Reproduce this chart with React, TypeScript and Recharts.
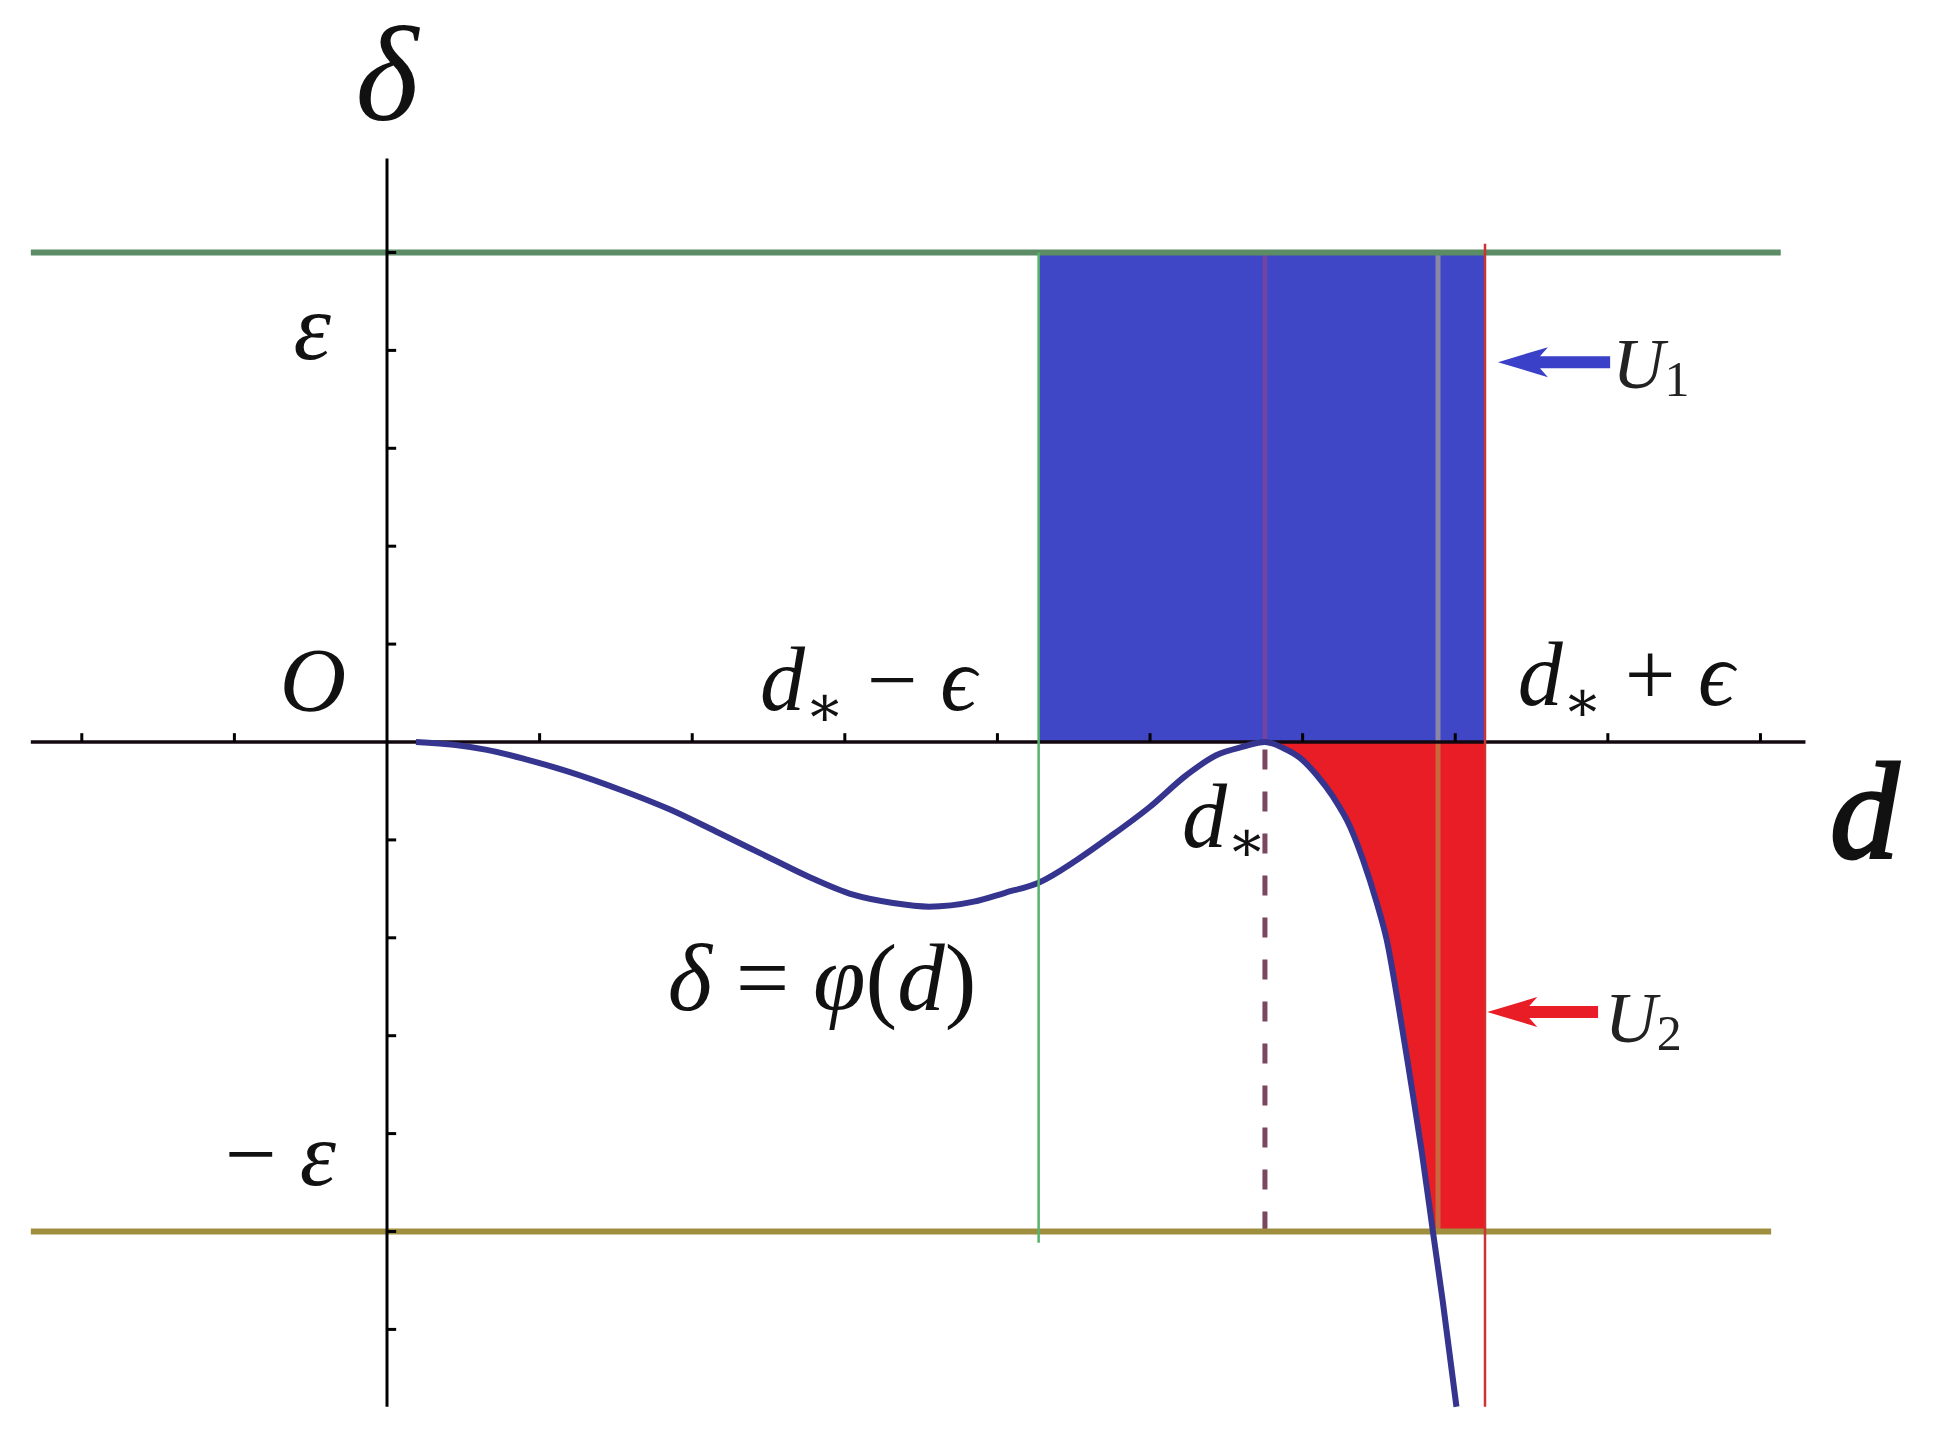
import React from 'react';
import {
  ComposedChart,
  Line,
  Area,
  XAxis,
  YAxis,
  ReferenceLine,
  ReferenceArea,
  ReferenceDot,
} from 'recharts';

// ---------- data (in tick units) ----------
const curveX = [0.19, 0.45, 0.655, 0.917, 1.183, 1.533, 1.855, 2.176, 2.53, 2.763, 3.054, 3.316, 3.552, 3.845, 4.05, 4.27, 4.52, 4.738, 5.0, 5.24, 5.437, 5.61, 5.753, 5.872, 5.983, 6.092, 6.199, 6.311, 6.396, 6.486, 6.551, 6.622, 6.707, 6.779, 6.855, 6.917, 7.008];
const curveY = [0, -0.03, -0.08, -0.18, -0.3, -0.49, -0.69, -0.93, -1.2, -1.376, -1.56, -1.645, -1.682, -1.631, -1.54, -1.437, -1.205, -0.967, -0.661, -0.337, -0.133, -0.048, 0, -0.061, -0.163, -0.337, -0.559, -0.865, -1.205, -1.645, -2.022, -2.635, -3.452, -4.167, -5.015, -5.7, -6.79];

// U2 region: between the curve (clipped at -eps) and the d-axis
const regionU2X = [5.753, 5.872, 5.983, 6.092, 6.199, 6.311, 6.396, 6.486, 6.551, 6.622, 6.707, 6.779, 6.855, 7.195];
const regionU2Low = [0, -0.061, -0.163, -0.337, -0.559, -0.865, -1.205, -1.645, -2.022, -2.635, -3.452, -4.167, -5, -5];
const regionU2High = [0, 0, 0, 0, 0, 0, 0, 0, 0, 0, 0, 0, 0, 0];

const xTicks = [-2, -1, 1, 2, 3, 4, 5, 6, 7, 8, 9];
const yTicks = [-6, -5, -4, -3, -2, -1, 1, 2, 3, 4, 5];

const EPS_Y = 5;
const D_STAR = 5.753;
const D_MINUS = 4.27;
const D_PLUS = 7.195;
const D_CROSS = 6.887;
const LINE_LEFT = -2.334;
const AXIS_RIGHT = 9.295;
const TOP_RIGHT = 9.133;
const BOTTOM_RIGHT = 9.07;
const Y_AXIS_TOP = 5.96;
const Y_AXIS_BOTTOM = -6.79;

const U1_ARROW = { tip: 7.28, tail: 8.015, y: 3.88 };
const U2_ARROW = { tip: 7.21, tail: 7.936, y: -2.758 };

// ---------- derived tables ----------
const curveData = curveX.map((x, i) => ({ x, y: curveY[i] }));
const regionU2Data = regionU2X.map((x, i) => ({ x, range: [regionU2Low[i], regionU2High[i]] }));

const W = 1939;
const H = 1437;
const FONT = '"Liberation Serif", "DejaVu Serif", serif';

const arrowShape = (color: string) => (p: any) => {
  const { x1, y1, x2 } = p;
  const tip = Math.min(x1, x2);
  const tail = Math.max(x1, x2);
  const y = y1;
  const pts = [
    [tip, y],
    [tip + 50, y - 15],
    [tip + 42, y - 6],
    [tail, y - 6],
    [tail, y + 6],
    [tip + 42, y + 6],
    [tip + 50, y + 15],
  ]
    .map((q) => q.join(','))
    .join(' ');
  return <polygon points={pts} fill={color} stroke="none" />;
};

const textAt = (render: (cx: number, cy: number) => React.ReactNode) => (p: any) => (
  <g>{render(p.cx, p.cy)}</g>
);

export default function App() {
  return (
    <div style={{ position: 'absolute', left: 0, top: 0, width: W, height: H, background: '#fff' }}>
      <ComposedChart width={W} height={H} margin={{ top: 0, right: 0, bottom: 0, left: 0 }}>
        <XAxis type="number" dataKey="x" hide domain={[-2.536, 10.17]} allowDataOverflow />
        <YAxis type="number" hide domain={[-7.099, 7.579]} allowDataOverflow />

        {/* U1 region */}
        <ReferenceArea x1={D_MINUS} x2={D_PLUS} y1={0} y2={EPS_Y} fill="#3f47c7" fillOpacity={1} stroke="none" zIndex={10} />

        {/* U2 region */}
        <Area
          data={regionU2Data}
          dataKey="range"
          type="linear"
          fill="#e81d25"
          fillOpacity={1}
          stroke="none"
          isAnimationActive={false}
          zIndex={20}
        />

        {/* inner vertical lines */}
        <ReferenceLine segment={[{ x: D_STAR, y: 0 }, { x: D_STAR, y: EPS_Y }]} stroke="#7044a4" strokeWidth={5} zIndex={30} />
        <ReferenceLine segment={[{ x: D_STAR, y: -EPS_Y }, { x: D_STAR, y: 0 }]} stroke="#7a4660" strokeWidth={5} strokeDasharray="20 22" zIndex={30} />
        <ReferenceLine segment={[{ x: D_CROSS, y: 0 }, { x: D_CROSS, y: EPS_Y }]} stroke="#8a86a6" strokeWidth={5} zIndex={30} />
        <ReferenceLine segment={[{ x: D_CROSS, y: -EPS_Y }, { x: D_CROSS, y: 0 }]} stroke="#c8683c" strokeWidth={5} zIndex={30} />

        {/* eps levels */}
        <ReferenceLine segment={[{ x: LINE_LEFT, y: EPS_Y }, { x: TOP_RIGHT, y: EPS_Y }]} stroke="#5b8c66" strokeWidth={6} zIndex={40} />
        <ReferenceLine segment={[{ x: LINE_LEFT, y: -EPS_Y }, { x: BOTTOM_RIGHT, y: -EPS_Y }]} stroke="#9e8e3e" strokeWidth={6} zIndex={40} />

        {/* axes */}
        <ReferenceLine segment={[{ x: LINE_LEFT, y: 0 }, { x: AXIS_RIGHT, y: 0 }]} stroke="#140810" strokeWidth={3.5} zIndex={50} />
        <ReferenceLine segment={[{ x: 0, y: Y_AXIS_BOTTOM }, { x: 0, y: Y_AXIS_TOP }]} stroke="#000" strokeWidth={3} zIndex={50} />
        {xTicks.map((k) => (
          <ReferenceLine key={'xt' + k} segment={[{ x: k, y: 0 }, { x: k, y: 0.09 }]} stroke="#000" strokeWidth={3} zIndex={50} />
        ))}
        {yTicks.map((k) => (
          <ReferenceLine key={'yt' + k} segment={[{ x: 0, y: k }, { x: 0.06, y: k }]} stroke="#000" strokeWidth={3} zIndex={50} />
        ))}

        {/* delta = phi(d) */}
        <Line
          data={curveData}
          dataKey="y"
          type="monotone"
          stroke="#35358f"
          strokeWidth={6}
          dot={false}
          activeDot={false}
          isAnimationActive={false}
          zIndex={60}
        />

        {/* d*-eps and d*+eps verticals */}
        <ReferenceLine segment={[{ x: D_MINUS, y: -5.115 }, { x: D_MINUS, y: EPS_Y }]} stroke="#56b46a" strokeWidth={2.5} zIndex={70} />
        <ReferenceLine segment={[{ x: D_PLUS, y: Y_AXIS_BOTTOM }, { x: D_PLUS, y: 5.09 }]} stroke="#cc3333" strokeWidth={2.5} zIndex={70} />

        {/* arrows */}
        <ReferenceLine segment={[{ x: U1_ARROW.tip, y: U1_ARROW.y }, { x: U1_ARROW.tail, y: U1_ARROW.y }]} shape={arrowShape('#3a40c8')} zIndex={80} />
        <ReferenceLine segment={[{ x: U2_ARROW.tip, y: U2_ARROW.y }, { x: U2_ARROW.tail, y: U2_ARROW.y }]} shape={arrowShape('#e81d25')} zIndex={80} />

        {/* labels */}
        <ReferenceDot x={0} y={6.35} r={0} zIndex={90} shape={textAt((cx, cy) => (
          <text x={cx} y={cy} textAnchor="middle" fontFamily={FONT} fontStyle="italic" fontSize={135} fill="#111">δ</text>
        ))} />
        <ReferenceDot x={-0.367} y={3.912} r={0} zIndex={90} shape={textAt((cx, cy) => (
          <text x={cx} y={cy} textAnchor="end" fontFamily={FONT} fontStyle="italic" fontSize={95} fill="#111">ε</text>
        ))} />
        <ReferenceDot x={-0.268} y={0.317} r={0} zIndex={90} shape={textAt((cx, cy) => (
          <text x={cx} y={cy} textAnchor="end" fontFamily={FONT} fontStyle="italic" fontSize={92} fill="#111">O</text>
        ))} />
        <ReferenceDot x={-0.334} y={-4.525} r={0} zIndex={90} shape={textAt((cx, cy) => (
          <text x={cx} y={cy} textAnchor="end" fontFamily={FONT} fontSize={92} fill="#111">
            <tspan>− </tspan>
            <tspan fontStyle="italic">ε</tspan>
          </text>
        ))} />
        <ReferenceDot x={2.444} y={0.327} r={0} zIndex={90} shape={textAt((cx, cy) => (
          <text x={cx} y={cy} fontFamily={FONT} fontSize={90} fill="#111">
            <tspan fontStyle="italic">d</tspan>
            <tspan fontSize={58} dy={16}>∗</tspan>
            <tspan dy={-16}>{'  − '}</tspan>
            <tspan fontStyle="italic">ϵ</tspan>
          </text>
        ))} />
        <ReferenceDot x={7.41} y={0.378} r={0} zIndex={90} shape={textAt((cx, cy) => (
          <text x={cx} y={cy} fontFamily={FONT} fontSize={90} fill="#111">
            <tspan fontStyle="italic">d</tspan>
            <tspan fontSize={58} dy={16}>∗</tspan>
            <tspan dy={-16}>{'  + '}</tspan>
            <tspan fontStyle="italic">ϵ</tspan>
          </text>
        ))} />
        <ReferenceDot x={5.21} y={-1.07} r={0} zIndex={90} shape={textAt((cx, cy) => (
          <text x={cx} y={cy} fontFamily={FONT} fontSize={90} fill="#111">
            <tspan fontStyle="italic">d</tspan>
            <tspan fontSize={58} dy={14}>∗</tspan>
          </text>
        ))} />
        <ReferenceDot x={1.84} y={-2.74} r={0} zIndex={90} shape={textAt((cx, cy) => (
          <text x={cx} y={cy} fontFamily={FONT} fontSize={95} fill="#111">
            <tspan fontStyle="italic">δ</tspan>
            <tspan>{' = '}</tspan>
            <tspan fontStyle="italic">φ</tspan>
            <tspan>(</tspan>
            <tspan fontStyle="italic">d</tspan>
            <tspan>)</tspan>
          </text>
        ))} />
        <ReferenceDot x={9.456} y={-1.185} r={0} zIndex={90} shape={textAt((cx, cy) => (
          <text x={cx} y={cy} fontFamily={FONT} fontStyle="italic" fontSize={138} fill="#111" stroke="#111" strokeWidth={3}>d</text>
        ))} />
        <ReferenceDot x={8.03} y={3.616} r={0} zIndex={90} shape={textAt((cx, cy) => (
          <text x={cx} y={cy} fontFamily={FONT} fontSize={72} fill="#222">
            <tspan fontStyle="italic">U</tspan>
            <tspan fontSize={50} dy={8}>1</tspan>
          </text>
        ))} />
        <ReferenceDot x={7.98} y={-3.064} r={0} zIndex={90} shape={textAt((cx, cy) => (
          <text x={cx} y={cy} fontFamily={FONT} fontSize={72} fill="#222">
            <tspan fontStyle="italic">U</tspan>
            <tspan fontSize={50} dy={8}>2</tspan>
          </text>
        ))} />
      </ComposedChart>
    </div>
  );
}
